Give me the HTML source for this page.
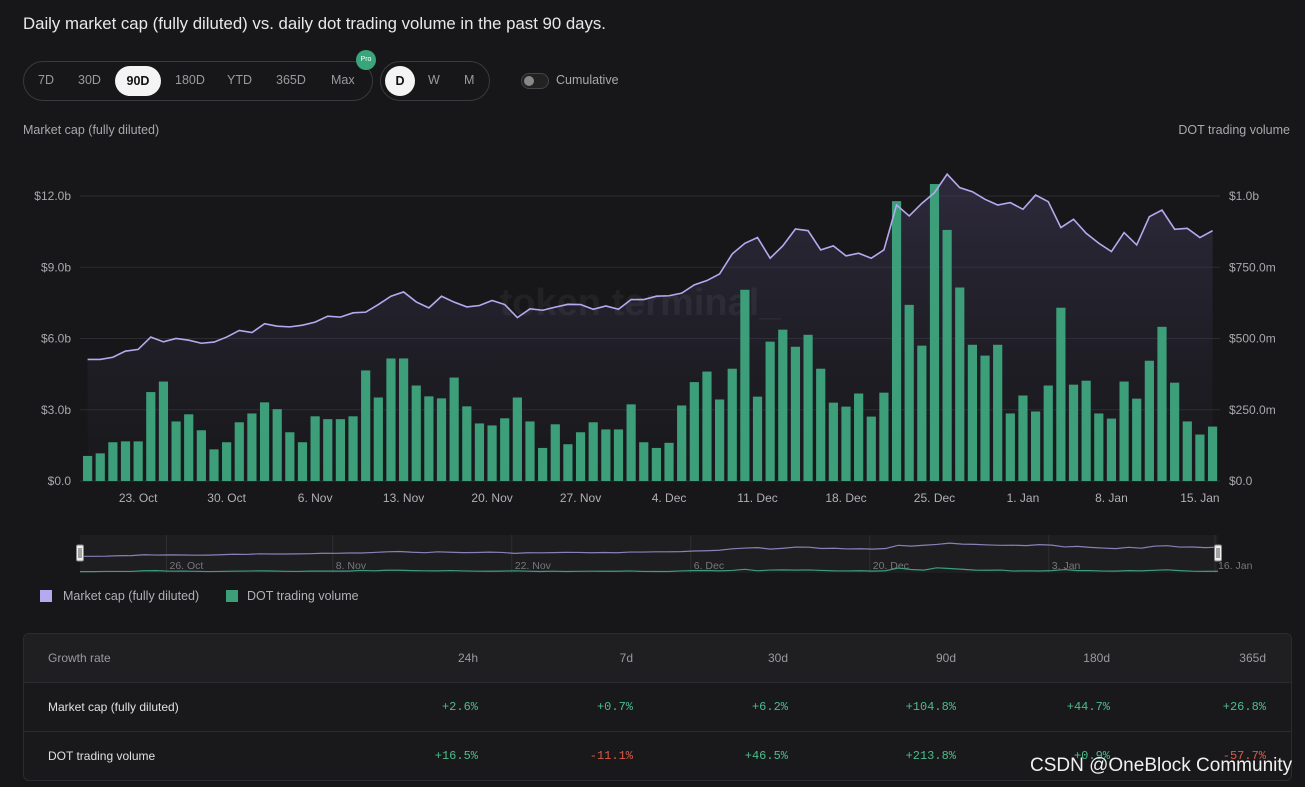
<!DOCTYPE html>
<html><head><meta charset="utf-8">
<style>
body{margin:0;background:#171719;font-family:"Liberation Sans",sans-serif;color:#ddd;width:1305px;height:787px;overflow:hidden;position:relative}
.abs{position:absolute}
.title{left:23px;top:14px;font-size:16.8px;color:#e8e8ea}
.pill{border:1px solid #3a3a3e;border-radius:20px;height:38px;top:61px}
.opt{position:absolute;top:11px;font-size:12.5px;color:#9a9aa0}
.sel{position:absolute;top:4px;height:30px;background:#f4f4f4;border-radius:16px;color:#111;font-size:12.5px;font-weight:bold;text-align:center;line-height:30px}
.axt{font-size:12.5px;color:#a8a8ad}
.row{position:relative;height:48px;border-top:1px solid #2c2c30}
.row span{position:absolute;top:17px;font-size:12px;font-family:"Liberation Mono",monospace;color:#4dbb8a}
.row span.l{left:24px;font-family:"Liberation Sans",sans-serif;color:#e0e0e0}
.row.h{background:#1f1f22;border-top:none}
.row.h span{font-family:"Liberation Sans",sans-serif;color:#9a9aa0}
.row span.neg{color:#d65a4a}
.c1{right:813px}.c2{right:658px}.c3{right:503px}.c4{right:335px}.c5{right:181px}.c6{right:25px}
</style></head><body>
<div class="abs title">Daily market cap (fully diluted) vs. daily dot trading volume in the past 90 days.</div>
<div class="abs pill" style="left:23px;width:348px">
 <span class="opt" style="left:14px">7D</span>
 <span class="opt" style="left:54px">30D</span>
 <div class="sel" style="left:91px;width:46px">90D</div>
 <span class="opt" style="left:151px">180D</span>
 <span class="opt" style="left:203px">YTD</span>
 <span class="opt" style="left:252px">365D</span>
 <span class="opt" style="left:307px">Max</span>
</div>
<div class="abs" style="left:356px;top:50px;width:20px;height:20px;border-radius:10px;background:#3aa57a;color:#fff;font-size:7px;line-height:20px;text-align:center">Pro</div>
<div class="abs pill" style="left:380px;width:108px">
 <div class="sel" style="left:4px;width:30px">D</div>
 <span class="opt" style="left:47px">W</span>
 <span class="opt" style="left:83px">M</span>
</div>
<div class="abs" style="left:521px;top:73px;width:26px;height:14px;border-radius:8px;border:1px solid #444;background:#222"><div style="width:10px;height:10px;border-radius:5px;background:#888;margin:2px"></div></div>
<div class="abs axt" style="left:556px;top:73px;font-size:12.5px">Cumulative</div>
<div class="abs axt" style="left:23px;top:123px">Market cap (fully diluted)</div>
<div class="abs axt" style="right:15px;top:123px">DOT trading volume</div>

<svg class="abs" style="left:0;top:0" width="1305" height="600" id="chart"></svg>

<div class="abs" style="left:40px;top:590px;width:12px;height:12px;background:#b7a9f0"></div>
<div class="abs" style="left:63px;top:589px;font-size:12.5px;color:#b0b0b5">Market cap (fully diluted)</div>
<div class="abs" style="left:226px;top:590px;width:12px;height:12px;background:#3d9e7a"></div>
<div class="abs" style="left:247px;top:589px;font-size:12.5px;color:#b0b0b5">DOT trading volume</div>

<div class="abs" style="left:23px;top:633px;width:1267px;border:1px solid #2c2c30;border-radius:6px;background:#19191b;overflow:hidden">
 <div class="row h"><span class="l" style="color:#9a9aa0">Growth rate</span><span class="c1">24h</span><span class="c2">7d</span><span class="c3">30d</span><span class="c4">90d</span><span class="c5">180d</span><span class="c6">365d</span></div>
 <div class="row"><span class="l">Market cap (fully diluted)</span><span class="c1">+2.6%</span><span class="c2">+0.7%</span><span class="c3">+6.2%</span><span class="c4">+104.8%</span><span class="c5">+44.7%</span><span class="c6">+26.8%</span></div>
 <div class="row"><span class="l">DOT trading volume</span><span class="c1">+16.5%</span><span class="c2 neg">-11.1%</span><span class="c3">+46.5%</span><span class="c4">+213.8%</span><span class="c5">+0.9%</span><span class="c6 neg">-57.7%</span></div>
</div>
<div class="abs" style="left:1030px;top:755px;font-size:19px;color:#f0f0f0">CSDN @OneBlock Community</div>

<script>
const volume=[88,97,136,139,139,312,349,209,234,178,111,136,206,237,276,252,171,136,227,217,217,227,388,293,430,430,335,297,290,363,262,202,195,220,293,209,116,199,129,171,206,181,181,269,136,116,134,265,347,384,286,394,671,296,489,531,471,513,394,275,261,307,226,310,982,618,475,1042,881,679,478,440,478,237,300,244,335,608,338,352,237,219,349,289,422,541,345,209,163,191];
const marketCap=[5.12,5.12,5.21,5.47,5.54,6.06,5.86,6.00,5.93,5.80,5.85,6.06,6.34,6.25,6.62,6.52,6.49,6.56,6.69,6.94,6.90,7.08,7.11,7.43,7.78,7.96,7.54,7.29,7.78,7.53,7.33,7.39,7.60,7.43,6.88,7.25,7.19,7.32,7.44,7.43,7.23,7.37,7.23,7.64,7.64,7.78,7.80,7.91,8.26,8.44,8.72,9.56,10.01,10.25,9.38,9.90,10.61,10.54,9.73,9.90,9.48,9.59,9.38,9.73,11.62,11.16,11.69,12.14,12.92,12.35,12.18,11.86,11.62,11.72,11.44,12.04,11.76,10.67,11.02,10.43,10.01,9.66,10.46,9.94,11.13,11.41,10.60,10.64,10.25,10.54];
const leftTicks=["$0.0","$3.0b","$6.0b","$9.0b","$12.0b"];
const leftTickVals=[0,3,6,9,12];
const rightTicks=["$0.0","$250.0m","$500.0m","$750.0m","$1.0b"];
const xLabels=["23. Oct","30. Oct","6. Nov","13. Nov","20. Nov","27. Nov","4. Dec","11. Dec","18. Dec","25. Dec","1. Jan","8. Jan","15. Jan"];
const xLabelIdx=[4,11,18,25,32,39,46,53,60,67,74,81,88];
const navLabels=["26. Oct","8. Nov","22. Nov","6. Dec","20. Dec","3. Jan","16. Jan"];
const navLabelIdx=[7,20,34,48,62,76,89];

const NS="http://www.w3.org/2000/svg";
const svg=document.getElementById('chart');
const x0=87.6,step=12.64,yBase=481,yTop=196;
const xs=i=>x0+i*step;
const yL=v=>yBase-(v/12)*(yBase-yTop);
const yR=v=>yBase-(v/1000)*(yBase-yTop);
function mk(t,a,p){const e=document.createElementNS(NS,t);for(const k in a)e.setAttribute(k,a[k]);(p||svg).appendChild(e);return e;}
const defs=mk('defs',{});
const g=mk('linearGradient',{id:'ar',x1:0,y1:0,x2:0,y2:1},defs);
mk('stop',{offset:0,'stop-color':'#4a4168','stop-opacity':0.45},g);
mk('stop',{offset:1,'stop-color':'#2a2838','stop-opacity':0.1},g);
leftTickVals.forEach((v,i)=>{
 const gl=mk('line',{x1:80,x2:1220,y1:yL(v),y2:yL(v),stroke:'#2c2c30','stroke-width':1});
 
 const t=mk('text',{x:71,y:yL(v)+4,'text-anchor':'end','font-size':12,fill:'#a8a8ad'});t.textContent=leftTicks[i];
 
 const r=mk('text',{x:1229,y:yL(v)+4,'font-size':12,fill:'#a8a8ad'});r.textContent=rightTicks[i];
 
});
let ap='M'+xs(0)+','+yBase;marketCap.forEach((v,i)=>ap+='L'+xs(i)+','+yL(v));ap+='L'+xs(marketCap.length-1)+','+yBase+'Z';
const area=mk('path',{d:ap,fill:'url(#ar)'});

const wm=mk('text',{x:640,y:315,'text-anchor':'middle','font-size':38,fill:'#ffffff','fill-opacity':0.05,'font-weight':'bold'});wm.textContent='token terminal_';

volume.forEach((v,i)=>{
 const b=mk('rect',{x:xs(i)-4.6,y:yR(v),width:9.2,height:yBase-yR(v),fill:'#3d9e7a'});
 
});
const line=mk('polyline',{points:marketCap.map((v,i)=>xs(i)+','+yL(v)).join(' '),fill:'none',stroke:'#b7a9f0','stroke-width':1.6});

xLabels.forEach((l,k)=>{
 const t=mk('text',{x:xs(xLabelIdx[k]),y:502,'text-anchor':'middle','font-size':12,fill:'#b0b0b5'});t.textContent=l;
 
});
const nx0=80,nx1=1218,ny0=535,ny1=573;
const nbg=mk('rect',{x:nx0,y:ny0,width:nx1-nx0,height:ny1-ny0,fill:'#1e1e21'});

const nxs=i=>nx0+i*(nx1-nx0)/89;
const nyL=v=>ny1-8-(v/13)*22;
const nyR=v=>ny1-1-(v/1000)*4;
navLabels.forEach((l,k)=>{
 mk('line',{x1:nxs(navLabelIdx[k])-3,x2:nxs(navLabelIdx[k])-3,y1:ny0,y2:ny1,stroke:'#2e2e32'});
 const t=mk('text',{x:nxs(navLabelIdx[k]),y:569,'font-size':10.5,fill:'#77777c'});t.textContent=l;
 
});
const nl=mk('polyline',{points:marketCap.map((v,i)=>nxs(i)+','+nyL(v)).join(' '),fill:'none',stroke:'#8a80b8','stroke-width':1.2});

const nv=mk('polyline',{points:volume.map((v,i)=>nxs(i)+','+nyR(v)).join(' '),fill:'none',stroke:'#3d9e7a','stroke-width':1.2});

[nx0,nx1].forEach((hx,k)=>{
 const h=mk('rect',{x:hx-3.5,y:545,width:7,height:16,rx:1.5,fill:'#eee',stroke:'#888'});
 
 mk('line',{x1:hx-1,x2:hx-1,y1:548,y2:558,stroke:'#555'});mk('line',{x1:hx+1,x2:hx+1,y1:548,y2:558,stroke:'#555'});
});
</script>
</body></html>
